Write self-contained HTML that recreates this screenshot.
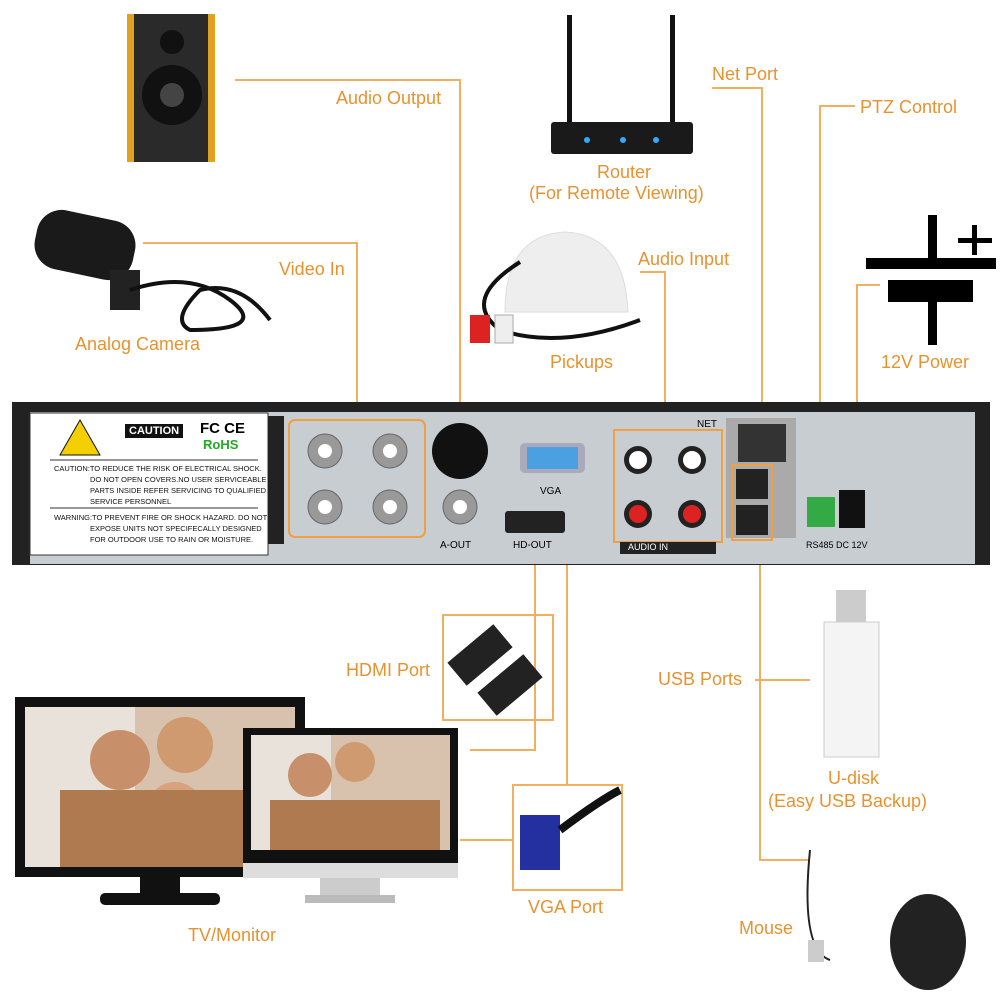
<!DOCTYPE html>
<html><head><meta charset="utf-8"><style>
body{margin:0;width:1000px;height:1000px;background:#fff;position:relative;overflow:hidden;font-family:"Liberation Sans",sans-serif}
.l{position:absolute;color:#e8922f;font-size:18px;white-space:nowrap}
.a{position:absolute}
.s{position:absolute;font-size:7.5px;white-space:nowrap;color:#111}
</style></head><body>
<svg class="a" style="left:0;top:0" width="1000" height="1000">
<g stroke="#f0b060" stroke-width="2" fill="none">
<polyline points="235,80 460,80 460,500"/>
<polyline points="143,243 357,243 357,420"/>
<polyline points="712,88 762,88 762,425"/>
<polyline points="855,106 820,106 820,497"/>
<polyline points="880,285 857,285 857,490"/>
<polyline points="640,272 665,272 665,430"/>
<polyline points="535,545 535,750 470,750"/>
<polyline points="567,545 567,785"/>
<polyline points="460,840 513,840"/>
<polyline points="760,555 760,860 810,860"/>
<polyline points="755,680 810,680"/>
<rect x="443" y="615" width="110" height="105"/>
<rect x="513" y="785" width="109" height="105"/>
</g>
<!-- speaker -->
<rect x="127" y="14" width="88" height="148" fill="#e0a020"/>
<rect x="134" y="14" width="74" height="148" fill="#2a2a2a"/>
<circle cx="172" cy="42" r="12" fill="#111"/><circle cx="172" cy="95" r="30" fill="#111"/><circle cx="172" cy="95" r="12" fill="#444"/>
<!-- router -->
<rect x="567" y="15" width="5" height="115" fill="#111"/><rect x="670" y="15" width="5" height="115" fill="#111"/>
<rect x="551" y="122" width="142" height="32" rx="3" fill="#1a1a1a"/>
<circle cx="587" cy="140" r="3" fill="#3af"/><circle cx="623" cy="140" r="3" fill="#3af"/><circle cx="656" cy="140" r="3" fill="#3af"/>
<!-- camera -->
<rect x="35" y="215" width="100" height="60" rx="25" fill="#1a1a1a" transform="rotate(12 85 245)"/>
<rect x="110" y="270" width="30" height="40" fill="#222"/>
<path d="M130 290 Q190 270 230 300 Q270 330 190 330 Q170 320 200 290 Q240 280 270 320" stroke="#111" stroke-width="4" fill="none"/>
<!-- pickup -->
<path d="M505 312 Q505 235 565 232 Q625 235 628 312 Z" fill="#eee" stroke="#ddd"/>
<path d="M520 262 Q460 300 500 330 Q560 350 640 320" stroke="#111" stroke-width="4" fill="none"/>
<rect x="470" y="315" width="20" height="28" fill="#d22"/><rect x="495" y="315" width="18" height="28" fill="#eee" stroke="#aaa"/>
<!-- power symbol -->
<rect x="928" y="215" width="9" height="50" fill="#000"/><rect x="866" y="258" width="130" height="11" fill="#000"/>
<rect x="888" y="280" width="85" height="22" fill="#000"/><rect x="928" y="300" width="9" height="45" fill="#000"/>
<rect x="958" y="238" width="34" height="5" fill="#000"/><rect x="972" y="225" width="5" height="30" fill="#000"/>
<!-- DVR -->
<rect x="12" y="402" width="978" height="163" fill="#222"/>
<rect x="30" y="412" width="945" height="152" fill="#c8cdd2"/>
<rect x="30" y="413" width="238" height="142" fill="#fff" stroke="#333"/>
<line x1="50" y1="460" x2="258" y2="460" stroke="#333"/><line x1="50" y1="508" x2="258" y2="508" stroke="#333"/>
<polygon points="80,420 100,455 60,455" fill="#f5d000" stroke="#111"/>
<rect x="268" y="416" width="16" height="128" fill="#222"/>
<rect x="289" y="420" width="136" height="117" rx="6" fill="none" stroke="#f0a040" stroke-width="2"/>
<g fill="#999" stroke="#666"><circle cx="325" cy="451" r="17"/><circle cx="390" cy="451" r="17"/><circle cx="325" cy="507" r="17"/><circle cx="390" cy="507" r="17"/><circle cx="460" cy="507" r="17"/></g>
<g fill="#fff"><circle cx="325" cy="451" r="7"/><circle cx="390" cy="451" r="7"/><circle cx="325" cy="507" r="7"/><circle cx="390" cy="507" r="7"/><circle cx="460" cy="507" r="7"/></g>
<circle cx="460" cy="451" r="28" fill="#111"/>
<rect x="520" y="443" width="65" height="30" rx="5" fill="#aab" /><rect x="527" y="447" width="51" height="22" fill="#4aa0e0"/>
<rect x="505" y="511" width="60" height="22" rx="3" fill="#222"/>
<rect x="614" y="430" width="108" height="112" fill="none" stroke="#f0a040" stroke-width="2"/>
<rect x="620" y="542" width="96" height="12" fill="#222"/>
<g><circle cx="638" cy="460" r="14" fill="#222"/><circle cx="692" cy="460" r="14" fill="#222"/><circle cx="638" cy="514" r="14" fill="#222"/><circle cx="692" cy="514" r="14" fill="#222"/>
<circle cx="638" cy="460" r="9" fill="#fff"/><circle cx="692" cy="460" r="9" fill="#fff"/><circle cx="638" cy="514" r="9" fill="#d22"/><circle cx="692" cy="514" r="9" fill="#d22"/></g>
<rect x="726" y="418" width="70" height="120" fill="#aaa"/><rect x="738" y="424" width="48" height="38" fill="#333"/>
<rect x="736" y="469" width="32" height="30" fill="#222"/><rect x="736" y="505" width="32" height="30" fill="#222"/>
<rect x="732" y="465" width="40" height="75" fill="none" stroke="#f0a040" stroke-width="2"/>
<rect x="807" y="497" width="28" height="30" fill="#3a4"/><rect x="839" y="490" width="26" height="38" fill="#111"/>
<!-- HDMI / VGA cables -->
<rect x="450" y="640" width="60" height="30" fill="#222" transform="rotate(-40 480 655)"/>
<rect x="480" y="670" width="60" height="30" fill="#222" transform="rotate(-40 510 685)"/>
<rect x="520" y="815" width="40" height="55" fill="#2530a0"/>
<path d="M560 830 Q600 800 620 790" stroke="#111" stroke-width="8" fill="none"/>
<!-- USB disk -->
<rect x="836" y="590" width="30" height="35" fill="#ccc"/><rect x="824" y="622" width="55" height="135" fill="#f4f4f4" stroke="#ccc"/>
<!-- mouse -->
<path d="M810 850 Q800 950 830 960" stroke="#222" stroke-width="2" fill="none"/>
<rect x="808" y="940" width="16" height="22" fill="#ccc"/>
<ellipse cx="928" cy="942" rx="38" ry="48" fill="#222"/>
<!-- monitors -->
<rect x="15" y="697" width="290" height="180" fill="#111"/><rect x="25" y="707" width="270" height="160" fill="#d9c2ad"/>
<rect x="25" y="707" width="110" height="160" fill="#e8e2da"/><circle cx="120" cy="760" r="30" fill="#c8906a"/><circle cx="185" cy="745" r="28" fill="#d09a70"/><circle cx="175" cy="810" r="28" fill="#d8a27c"/><rect x="60" y="790" width="220" height="77" fill="#b07a50"/>
<rect x="140" y="877" width="40" height="18" fill="#111"/><rect x="100" y="893" width="120" height="12" rx="5" fill="#111"/>
<rect x="243" y="728" width="215" height="135" fill="#111"/><rect x="251" y="735" width="199" height="115" fill="#d9c2ad"/>
<rect x="251" y="735" width="80" height="115" fill="#e8e2da"/><circle cx="310" cy="775" r="22" fill="#c8906a"/><circle cx="355" cy="762" r="20" fill="#d09a70"/><rect x="270" y="800" width="170" height="50" fill="#b07a50"/>
<rect x="243" y="863" width="215" height="15" fill="#ddd"/><rect x="320" y="878" width="60" height="20" fill="#ccc"/><rect x="305" y="895" width="90" height="8" fill="#bbb"/>
</svg>
<div class="l" style="left:336px;top:88px">Audio Output</div>
<div class="l" style="left:712px;top:64px">Net Port</div>
<div class="l" style="left:860px;top:97px">PTZ Control</div>
<div class="l" style="left:597px;top:162px">Router</div>
<div class="l" style="left:529px;top:183px">(For Remote Viewing)</div>
<div class="l" style="left:279px;top:259px">Video In</div>
<div class="l" style="left:638px;top:249px">Audio Input</div>
<div class="l" style="left:75px;top:334px">Analog Camera</div>
<div class="l" style="left:550px;top:352px">Pickups</div>
<div class="l" style="left:881px;top:352px">12V Power</div>
<div class="l" style="left:346px;top:660px">HDMI Port</div>
<div class="l" style="left:658px;top:669px">USB Ports</div>
<div class="l" style="left:828px;top:768px">U-disk</div>
<div class="l" style="left:768px;top:791px">(Easy USB Backup)</div>
<div class="l" style="left:528px;top:897px">VGA Port</div>
<div class="l" style="left:739px;top:918px">Mouse</div>
<div class="l" style="left:188px;top:925px">TV/Monitor</div>
<div class="a" style="left:125px;top:424px;font-size:11px;font-weight:bold;background:#111;color:#fff;padding:1px 4px">CAUTION</div>
<div class="a" style="left:200px;top:420px;font-size:15px;font-weight:bold">FC CE</div>
<div class="a" style="left:203px;top:437px;font-size:13px;font-weight:bold;color:#2a2">RoHS</div>
<div class="s" style="left:54px;top:464px">CAUTION:TO REDUCE THE RISK OF ELECTRICAL SHOCK.</div>
<div class="s" style="left:90px;top:475px">DO NOT OPEN COVERS.NO USER SERVICEABLE</div>
<div class="s" style="left:90px;top:486px">PARTS INSIDE REFER SERVICING TO QUALIFIED</div>
<div class="s" style="left:90px;top:497px">SERVICE PERSONNEL</div>
<div class="s" style="left:54px;top:513px">WARNING:TO PREVENT FIRE OR SHOCK HAZARD. DO NOT</div>
<div class="s" style="left:90px;top:524px">EXPOSE UNITS NOT SPECIFECALLY DESIGNED</div>
<div class="s" style="left:90px;top:535px">FOR OUTDOOR USE TO RAIN OR MOISTURE.</div>
<div class="a" style="left:440px;top:540px;font-size:10px">A-OUT</div>
<div class="a" style="left:513px;top:540px;font-size:10px">HD-OUT</div>
<div class="a" style="left:540px;top:486px;font-size:10px">VGA</div>
<div class="a" style="left:628px;top:542px;font-size:9px;color:#fff">AUDIO IN</div>
<div class="a" style="left:697px;top:419px;font-size:10px">NET</div>
<div class="a" style="left:806px;top:540px;font-size:9px">RS485 DC 12V</div>
</body></html>
